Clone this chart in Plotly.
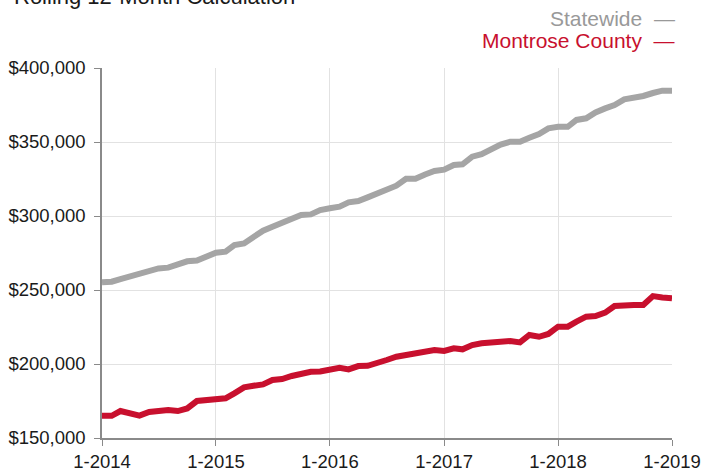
import pandas as pd
import plotly.graph_objects as go

months = pd.date_range("2014-01-01", "2019-01-01", freq="MS")

statewide = [
    255200, 255600, 257400, 259000, 260600, 262400, 264600, 265100, 266900, 269400,
    269900, 273000, 275200, 275900, 280400, 281500, 286000, 290100, 292800, 295700,
    298600, 300700, 301100, 304000, 305200, 306300, 309200, 310100, 312600, 315300,
    318000, 320500, 325200, 325200, 328100, 330400, 331300, 334500, 334900, 340100,
    341700, 345000, 348200, 350200, 350200, 352900, 355400, 359200, 360300, 360300,
    364900, 366000, 370000, 372700, 375000, 378800, 379900, 381100, 383100, 384700,
    384700,
]

montrose = [
    165000, 165000, 168200, 166700, 165100, 167600, 168200, 168900, 168200, 170000,
    175000, 175700, 176800, 176800, 180200, 184200, 185300, 186200, 189200, 189800,
    191900, 193700, 194800, 194900, 196000, 197500, 196400, 198600, 198800, 200400,
    202700, 204900, 206100, 207600, 208300, 209400, 208800, 210600, 209900, 212800,
    214000, 214400, 214600, 215500, 214600, 219600, 218400, 220300, 225200, 225200,
    228600, 232000, 232400, 234700, 239200, 239900, 239900, 239900, 245900, 245000,
    244400,
]

tick_dates = ["2014-01-01", "2015-01-01", "2016-01-01", "2017-01-01", "2018-01-01", "2019-01-01"]
tick_labels = ["1-2014", "1-2015", "1-2016", "1-2017", "1-2018", "1-2019"]
y_ticks = [150000, 200000, 250000, 300000, 350000, 400000]

title_text = "Rolling 12-Month Calculation"
series_names = ["Statewide", "Montrose County"]

GRAY = "#a5a5a5"
RED = "#c8102e"
FONT = "Liberation Sans, Arial, Helvetica, sans-serif"

fig = go.Figure()
fig.add_trace(go.Scatter(x=months, y=statewide, mode="lines", name=series_names[0],
                         line=dict(color=GRAY, width=6), showlegend=False))
fig.add_trace(go.Scatter(x=months, y=montrose, mode="lines", name=series_names[1],
                         line=dict(color=RED, width=6), showlegend=False))

fig.update_layout(
    width=702, height=470, autosize=False,
    margin=dict(l=102, r=30, t=68, b=32, autoexpand=False),
    paper_bgcolor="white", plot_bgcolor="white",
    font=dict(family=FONT, size=17, color="#1a1a1a"),
    showlegend=False,
)

fig.update_xaxes(
    type="date",
    range=[months[0], months[-1]],
    tickvals=tick_dates, ticktext=tick_labels,
    showgrid=True, gridcolor="#e2e2e2", gridwidth=1,
    showline=True, linecolor="#8a8a8a", linewidth=1.5,
    ticks="outside", ticklen=6, tickcolor="#8a8a8a",
    tickfont=dict(size=18.5, color="#1a1a1a"),
    ticklabelstandoff=0,
    zeroline=False, automargin=False,
)
fig.update_yaxes(
    range=[150000, 400000],
    tickvals=y_ticks, tickformat="$,.0f",
    showgrid=True, gridcolor="#e2e2e2", gridwidth=1,
    showline=True, linecolor="#8a8a8a", linewidth=1.5,
    ticks="outside", ticklen=6, tickcolor="#8a8a8a",
    tickfont=dict(size=18.5, color="#1a1a1a"),
    ticklabelstandoff=5,
    zeroline=False, automargin=False,
)

fig.add_annotation(text=title_text, xref="paper", yref="paper",
                   x=-0.158, y=1.193, xanchor="left", yanchor="middle",
                   showarrow=False, font=dict(size=22, color="#1a1a1a", family=FONT))
fig.add_annotation(text=series_names[0] + "  \u2014", xref="paper", yref="paper",
                   x=1.0088, y=1.134, xanchor="right", yanchor="middle",
                   showarrow=False, font=dict(size=21, color="#999999", family=FONT))
fig.add_annotation(text=series_names[1] + "  \u2014", xref="paper", yref="paper",
                   x=1.0088, y=1.073, xanchor="right", yanchor="middle",
                   showarrow=False, font=dict(size=21, color=RED, family=FONT))

fig.write_html(
    "out.html",
    config={"displayModeBar": False},
    post_script="document.body.style.margin='0';document.body.style.padding='0';",
)
